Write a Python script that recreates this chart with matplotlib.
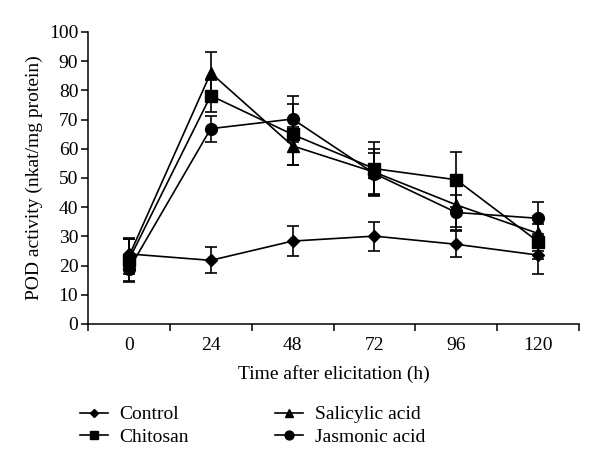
import matplotlib
matplotlib.use("Agg")
import matplotlib.pyplot as plt
from matplotlib.lines import Line2D
import numpy as np

times = ["0", "24", "48", "72", "96", "120"]
control = [24.0, 21.8, 28.4, 30.1, 27.3, 23.6]
control_err = [5.0, 4.5, 5.0, 5.0, 4.5, 6.5]
chitosan = [22.0, 78.2, 64.9, 53.2, 49.4, 28.2]
chitosan_err = [7.5, 5.5, 10.5, 9.0, 9.5, 6.0]
salicylic = [23.2, 86.0, 61.0, 52.0, 40.8, 31.0]
salicylic_err = [6.0, 7.0, 6.5, 8.0, 7.5, 6.0]
jasmonic = [18.7, 66.9, 70.2, 51.5, 38.2, 36.2]
jasmonic_err = [4.0, 4.5, 8.0, 7.0, 6.0, 5.5]

plt.rcParams['font.family'] = ['Liberation Serif', 'DejaVu Serif']
FS = 14

fig = plt.figure(figsize=(6.0, 4.72), dpi=100)
ax = fig.add_axes([88/600, 1-324/472, (579-88)/600, (324-32)/472])

x = np.arange(len(times))
series = [
    ("Control", control, control_err, "D", 6),
    ("Chitosan", chitosan, chitosan_err, "s", 8),
    ("Salicylic acid", salicylic, salicylic_err, "^", 8.5),
    ("Jasmonic acid", jasmonic, jasmonic_err, "o", 8.5),
]
handles = {}
for name, vals, err, m, ms in series:
    ax.errorbar(x, vals, yerr=err, color="black", marker=m, markersize=ms,
                lw=1.2, elinewidth=1.2, capsize=4, capthick=1.2)
    handles[name] = Line2D([], [], color="black", lw=1.2, marker=m,
                           markersize=ms * 0.75)

ax.set_xlim(-0.5, 5.5)
ax.set_ylim(0, 100)
ax.set_yticks(np.arange(0, 101, 10))
ax.set_xticks(np.arange(-0.5, 6.0, 1.0))
ax.set_xticklabels([])
ax.set_xticks(x, minor=True)
ax.set_xticklabels(times, minor=True)
ax.tick_params(axis="x", which="minor", length=0, pad=9, labelsize=FS)
ax.tick_params(axis="x", which="major", direction="out", length=5, width=1.1)
ax.tick_params(axis="y", direction="out", length=5, width=1.1, labelsize=FS, pad=2)
for s in ["top", "right"]:
    ax.spines[s].set_visible(False)
for s in ["left", "bottom"]:
    ax.spines[s].set_linewidth(1.1)

ax.set_xlabel("Time after elicitation (h)", fontsize=FS, labelpad=8)
ax.set_ylabel("POD activity (nkat/mg protein)", fontsize=FS, labelpad=4)

order = ["Control", "Chitosan", "Salicylic acid", "Jasmonic acid"]
fig.legend([handles[n] for n in order], order, loc="upper left",
           bbox_to_anchor=(74/600, 1-400/472), ncol=2, frameon=False,
           fontsize=FS, handlelength=1.45, columnspacing=4.4, labelspacing=0.25,
           handletextpad=0.6, borderaxespad=0, borderpad=0.3)

fig.savefig("out.png", dpi=100)
